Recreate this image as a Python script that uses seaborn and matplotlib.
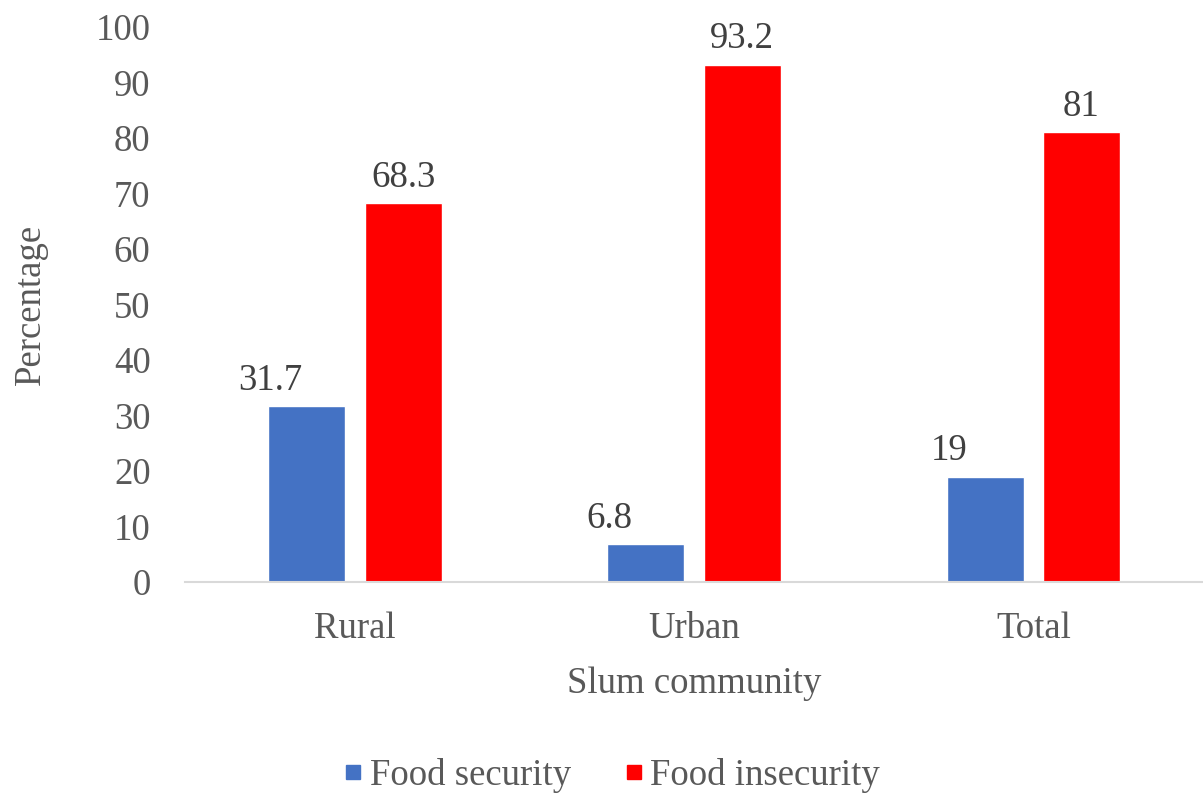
import matplotlib
matplotlib.use("Agg")
import matplotlib.pyplot as plt
import seaborn as sns
import pandas as pd
from matplotlib.lines import Line2D

categories = ["Rural", "Urban", "Total"]
food_security = [31.7, 6.8, 19]
food_insecurity = [68.3, 93.2, 81]
series_names = ["Food security", "Food insecurity"]
y_ticks = [0, 10, 20, 30, 40, 50, 60, 70, 80, 90, 100]

df = pd.DataFrame({
    "Slum community": categories * 2,
    "Percentage": food_security + food_insecurity,
    "Series": [series_names[0]] * 3 + [series_names[1]] * 3,
})

sns.set_theme(style="white")
plt.rcParams["font.family"] = ["Liberation Serif", "DejaVu Serif"]
text_color = "#595959"
fs = 26.5

fig = plt.figure(figsize=(12.03, 7.95), dpi=100)
ax = fig.add_axes([0.154, 0.268, 0.846, 0.698])

colors = {"Food security": "#4472C4", "Food insecurity": "#FF0000"}
sns.barplot(data=df, x="Slum community", y="Percentage", hue="Series",
            palette=colors, width=0.568, gap=0.2, ax=ax, legend=False,
            saturation=1)

for i, cont in enumerate(ax.containers):
    anns = ax.bar_label(cont, labels=[f"{v:g}" for v in cont.datavalues],
                        padding=6, fontsize=fs, color="#404040")
    if i == 0:
        for a in anns:
            a.xyann = (-26, 6)

ax.set_ylim(0, 100)
ax.set_xlim(-0.5, 2.5)
ax.set_yticks(y_ticks)
ax.tick_params(axis="both", labelsize=fs, colors=text_color, length=0)
ax.tick_params(axis="x", pad=21)
ax.tick_params(axis="y", pad=25)
for s in ["top", "right", "left"]:
    ax.spines[s].set_visible(False)
ax.spines["bottom"].set_color("#D9D9D9")
ax.spines["bottom"].set_linewidth(1.5)

ax.set_xlabel("Slum community", fontsize=fs, color=text_color, labelpad=15)
ax.set_ylabel("Percentage", fontsize=fs, color=text_color, labelpad=34)

handles = [Line2D([], [], marker="s", linestyle="none", markersize=10,
                  markerfacecolor=colors[n], markeredgecolor=colors[n])
           for n in series_names]
fig.legend(handles, series_names, loc="center", bbox_to_anchor=(0.508, 0.025),
           ncol=2, frameon=False, fontsize=fs, labelcolor=text_color,
           handletextpad=0.15, columnspacing=1.4, handlelength=0.6)

fig.savefig("out.png", dpi=100)
